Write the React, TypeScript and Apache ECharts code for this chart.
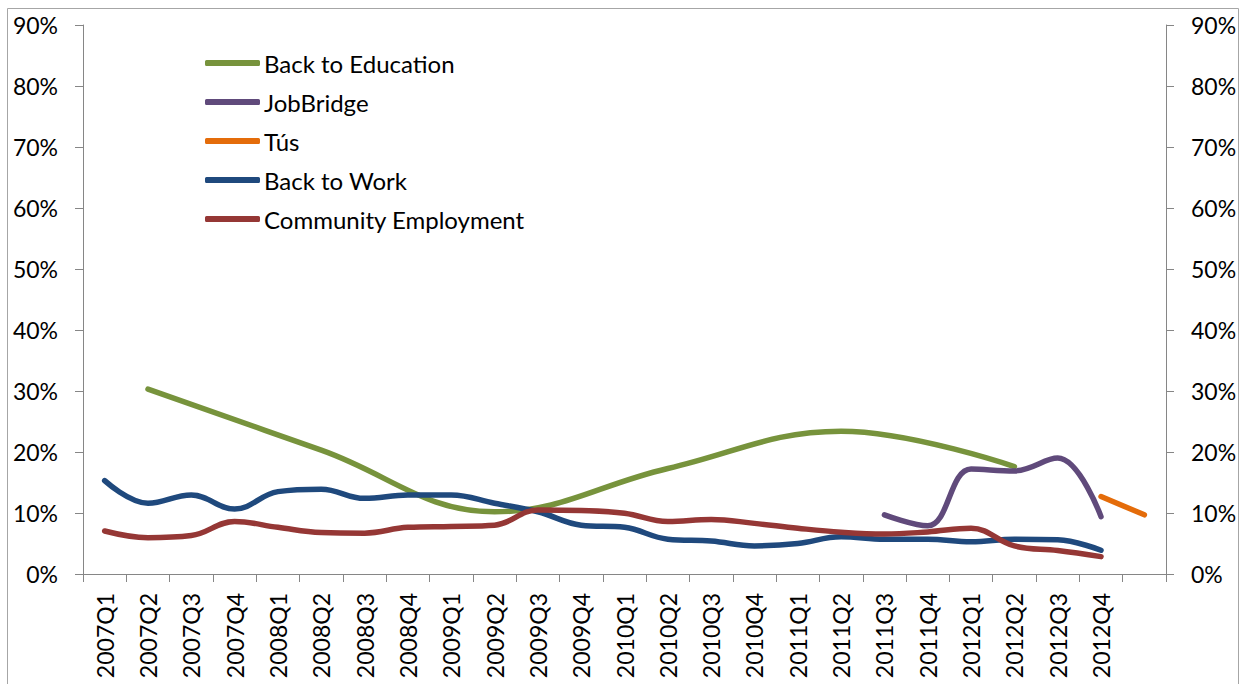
import React, { useEffect, useRef } from "react";
import * as echarts from "echarts";

const categories = [
  "2007Q1", "2007Q2", "2007Q3", "2007Q4",
  "2008Q1", "2008Q2", "2008Q3", "2008Q4",
  "2009Q1", "2009Q2", "2009Q3", "2009Q4",
  "2010Q1", "2010Q2", "2010Q3", "2010Q4",
  "2011Q1", "2011Q2", "2011Q3", "2011Q4",
  "2012Q1", "2012Q2", "2012Q3", "2012Q4",
  "",
];

const backToEducation = [
  null, 0.303, null, null, null, 0.203, null, null, null, 0.102, null, null,
  null, 0.173, null, null, null, 0.234, null, null, null, 0.176, null, null, null,
];

const jobBridge = [
  null, null, null, null, null, null, null, null, null, null, null, null,
  null, null, null, null, null, null, 0.097, 0.079, 0.172, 0.169, 0.19, 0.094, null,
];

const tus = [
  null, null, null, null, null, null, null, null, null, null, null, null,
  null, null, null, null, null, null, null, null, null, null, null, 0.127, 0.097,
];

const backToWork = [
  0.153, 0.116, 0.1295, 0.1065, 0.135, 0.139, 0.124, 0.1295, 0.1295, 0.116, 0.102, 0.08,
  0.0765, 0.057, 0.054, 0.046, 0.05, 0.061, 0.057, 0.057, 0.053, 0.057, 0.056, 0.039, null,
];

const communityEmployment = [
  0.0705, 0.0596, 0.063, 0.086, 0.0765, 0.068, 0.067, 0.0765, 0.078, 0.08, 0.105, 0.104,
  0.0995, 0.086, 0.0895, 0.083, 0.075, 0.0685, 0.0655, 0.069, 0.075, 0.046, 0.0385, 0.0285, null,
];

const FONT = "Lato";
const AXIS_COLOR = "#868686";

export default function App() {
  const ref = useRef<HTMLDivElement>(null);

  useEffect(() => {
    if (!ref.current) return;
    const chart = echarts.init(ref.current, undefined, { renderer: "svg" });

    const yAxisBase = (position: "left" | "right") => ({
      type: "value" as const,
      position,
      min: 0,
      max: 0.9,
      interval: 0.1,
      axisLine: { show: true, lineStyle: { color: AXIS_COLOR, width: 1 } },
      axisTick: { show: true, length: 8, lineStyle: { color: AXIS_COLOR } },
      splitLine: { show: false },
      axisLabel: {
        color: "#000",
        fontFamily: FONT,
        fontSize: 23,
        margin: 25,
        formatter: (v: number) => Math.round(v * 100) + "%",
      },
    });

    const lineSeries = (name: string, data: (number | null)[], color: string, connect = false) => ({
      name,
      type: "line" as const,
      data,
      smooth: 0.4,
      connectNulls: connect,
      showSymbol: false,
      symbol: "none",
      yAxisIndex: 0,
      lineStyle: { color, width: 5.5, cap: "round" as const, join: "round" as const },
      itemStyle: { color },
    });

    chart.setOption({
      animation: false,
      backgroundColor: "#fff",
      grid: { left: 83, right: 77, top: 25, bottom: 110, containLabel: false },
      legend: {
        orient: "vertical",
        left: 200,
        top: 46,
        icon: "roundRect",
        itemWidth: 55,
        itemHeight: 6,
        itemGap: 15,
        textStyle: { color: "#000", fontFamily: FONT, fontSize: 24, lineHeight: 24, padding: [0, 0, 0, -1] },
        data: ["Back to Education", "JobBridge", "Tús", "Back to Work", "Community Employment"],
      },
      xAxis: {
        type: "category",
        data: categories,
        boundaryGap: true,
        axisLine: { show: true, lineStyle: { color: AXIS_COLOR, width: 1 } },
        axisTick: { show: true, length: 8, alignWithLabel: false, interval: 0, lineStyle: { color: AXIS_COLOR } },
        axisLabel: {
          color: "#000",
          fontFamily: FONT,
          fontSize: 23,
          rotate: 90,
          interval: 0,
          margin: 19,
        },
        splitLine: { show: false },
      },
      yAxis: [yAxisBase("left"), yAxisBase("right")],
      graphic: [
        {
          type: "rect",
          silent: true,
          shape: { x: 7.5, y: 8.5, width: 1231, height: 700 },
          style: { fill: "none", stroke: "#a6a6a6", lineWidth: 1 },
        },
      ],
      series: [
        lineSeries("Back to Education", backToEducation, "#77933C", true),
        lineSeries("JobBridge", jobBridge, "#604A7B"),
        lineSeries("Tús", tus, "#E46C0A"),
        lineSeries("Back to Work", backToWork, "#1F497D"),
        lineSeries("Community Employment", communityEmployment, "#953735"),
      ],
    });

    return () => chart.dispose();
  }, []);

  return (
    <div
      ref={ref}
      style={{ position: "absolute", left: 0, top: 0, width: 1243, height: 684 }}
    />
  );
}
